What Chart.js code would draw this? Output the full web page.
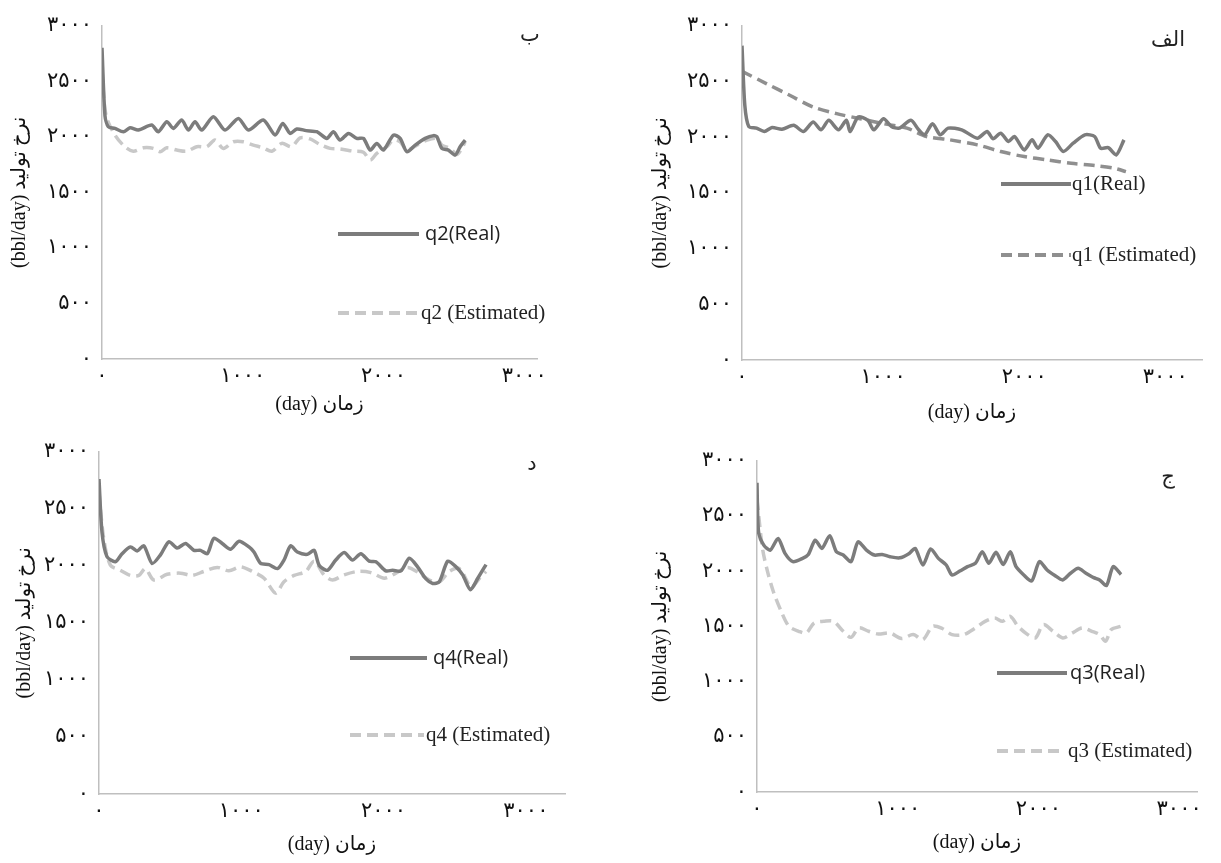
<!DOCTYPE html>
<html lang="fa" dir="ltr">
<head>
<meta charset="utf-8">
<script src="https://cdn.jsdelivr.net/npm/chart.js@4.4.1/dist/chart.umd.min.js"></script>
<style>
  html, body { margin: 0; padding: 0; background: #fff; width: 1221px; height: 863px; overflow: hidden; }
  canvas { position: absolute; }
</style>
</head>
<body>
<canvas id="panelB"></canvas>
<canvas id="panelAlef"></canvas>
<canvas id="panelDal"></canvas>
<canvas id="panelJim"></canvas>
<script>
// ---- data (days, bbl/day) ----
const q1RealDays = [0,20,48,103,158,213,283,366,436,504,560,615,684,740,767,823,892,934,1003,1059,1114,1197,1252,1294,1350,1405,1461,1557,1668,1737,1779,1834,1889,1931,2000,2056,2097,2167,2222,2277,2347,2430,2499,2541,2596,2652,2707];
const q1RealRate = [2820,2285,2095,2080,2050,2085,2070,2105,2050,2135,2065,2150,2065,2150,2050,2180,2150,2065,2165,2095,2080,2150,2065,2020,2120,2020,2080,2065,1990,2050,1985,2035,1960,2005,1885,1975,1900,2020,1960,1870,1945,2020,2005,1900,1905,1840,1975];
const q1EstDays = [0,172,338,504,671,837,1003,1169,1308,1474,1668,1834,2000,2167,2333,2499,2638,2721];
const q1EstRate = [2590,2480,2375,2270,2210,2165,2120,2080,2005,1975,1930,1870,1825,1795,1765,1745,1720,1690];

const q2RealDays = [0,21,45,92,152,199,258,353,400,460,507,566,614,661,708,791,874,969,1040,1146,1230,1284,1336,1384,1450,1526,1597,1644,1691,1751,1810,1857,1905,1952,1999,2070,2118,2166,2225,2296,2355,2379,2414,2461,2509,2544,2580];
const q2RealRate = [2800,2190,2090,2075,2045,2080,2060,2105,2045,2135,2075,2150,2060,2135,2060,2180,2060,2165,2060,2150,2015,2120,2030,2070,2055,2045,1985,2045,1970,2030,1985,1985,1880,1940,1880,2015,1985,1865,1925,1985,2010,2000,1895,1880,1835,1910,1970];
const q2EstDays = [0,28,92,163,222,294,365,412,460,531,602,673,744,803,862,933,1004,1075,1146,1206,1277,1348,1407,1478,1549,1620,1691,1786,1857,1905,1952,2023,2070,2118,2166,2237,2308,2379,2414,2473,2521,2556,2580];
const q2EstRate = [2600,2195,2015,1910,1870,1900,1895,1865,1900,1880,1870,1910,1910,1970,1895,1955,1955,1925,1900,1870,1940,1910,1990,1980,1930,1895,1890,1870,1860,1790,1850,1910,1970,1955,1880,1925,1970,1985,1925,1895,1840,1895,1955];

const q3RealDays = [0,11,48,94,150,199,255,324,365,414,461,517,564,613,668,718,778,834,889,945,1014,1082,1124,1179,1234,1289,1345,1386,1441,1496,1552,1601,1648,1698,1750,1800,1841,1896,1952,2007,2062,2117,2172,2228,2283,2338,2393,2435,2484,2531,2587];
const q3RealRate = [2800,2355,2235,2190,2295,2160,2085,2115,2150,2280,2205,2320,2175,2145,2085,2265,2190,2145,2150,2130,2120,2160,2205,2055,2200,2115,2055,1965,2000,2040,2070,2175,2070,2170,2060,2175,2040,1965,1910,2085,2010,1960,1920,1980,2025,1980,1940,1920,1870,2040,1970];
const q3EstDays = [0,39,75,116,172,227,296,351,406,475,544,613,668,723,793,862,945,1027,1110,1179,1248,1317,1386,1469,1552,1621,1689,1745,1800,1855,1924,1979,2035,2104,2173,2242,2311,2380,2435,2477,2518,2587];
const q3EstRate = [2650,2205,1995,1815,1635,1500,1455,1440,1530,1545,1545,1455,1400,1485,1455,1430,1440,1390,1425,1380,1500,1480,1425,1425,1485,1545,1575,1545,1590,1500,1425,1395,1515,1455,1395,1440,1485,1455,1425,1365,1470,1500];

const q4RealDays = [0,21,56,115,162,221,268,315,373,432,491,549,608,667,714,761,807,866,925,984,1054,1089,1136,1195,1254,1300,1347,1394,1465,1512,1547,1606,1664,1723,1782,1840,1899,1946,2016,2063,2122,2181,2239,2298,2345,2392,2451,2509,2556,2610,2662,2720];
const q4RealRate = [2760,2295,2080,2035,2105,2165,2130,2175,2020,2095,2210,2155,2195,2135,2135,2105,2240,2195,2145,2215,2165,2120,2020,2010,1975,2050,2175,2120,2100,2135,2005,1960,2050,2115,2050,2105,2040,2035,1955,1960,1955,2065,1990,1885,1845,1860,2040,1990,1920,1790,1890,2010];
const q4EstDays = [0,33,80,150,221,280,326,385,479,573,655,737,831,913,995,1077,1160,1242,1300,1371,1453,1512,1582,1641,1723,1817,1911,2005,2087,2169,2251,2322,2392,2463,2533,2615,2674,2720];
const q4EstRate = [2640,2240,2005,1960,1915,1915,1975,1875,1925,1935,1915,1950,1985,1955,1990,1950,1890,1760,1860,1915,1950,2040,1920,1875,1920,1950,1940,1890,1935,1985,1935,1875,1860,1950,1975,1815,1890,1950];

const xTickValues = [0, 1000, 2000, 3000];
const yTickStep = 500;

// ---- styles ----
const REAL_GRAY = '#7c7c7c';
const EST_MID = '#8f8f8f';
const EST_LIGHT = '#c8c8c8';
const AXIS_GRAY = '#bfbfbf';
const SERIF = "'Liberation Serif', 'DejaVu Sans', serif";
const SANS = "'Open Sans', 'Liberation Sans', sans-serif";
const TITLE_SIZE = 20;
const TICK_SIZE = 21;

const faDigits = n => String(n).replace(/\d/g, d => '۰۱۲۳۴۵۶۷۸۹'[d]);
const toPoints = (xs, ys) => xs.map((x, i) => ({ x: x, y: ys[i] }));

// plot boxes and label spots, in page pixels
const panels = [
  { id: 'panelB', letter: 'ب', L: 102, T: 23, R: 537, B: 359, xMax: 3090, yTitleX: 20, xTitleY: 405,
    letterX: 530, letterY: 35, name: 'q2', real: [q2RealDays, q2RealRate], est: [q2EstDays, q2EstRate], estColor: EST_LIGHT,
    legend: [ { x0: 338, x1: 419, y: 234, tx: 425, font: '20px ' + SANS },
              { x0: 338, x1: 419, y: 313, tx: 421, font: '21px ' + SERIF } ] },
  { id: 'panelAlef', letter: 'الف', L: 742, T: 23, R: 1202, B: 360, xMax: 3260, yTitleX: 661, xTitleY: 413,
    letterX: 1168, letterY: 40, name: 'q1', real: [q1RealDays, q1RealRate], est: [q1EstDays, q1EstRate], estColor: EST_MID,
    legend: [ { x0: 1001, x1: 1071, y: 184, tx: 1072, font: '21px ' + SERIF },
              { x0: 1001, x1: 1071, y: 255, tx: 1072, font: '21px ' + SERIF } ] },
  { id: 'panelDal', letter: 'د', L: 99, T: 449, R: 565, B: 794, xMax: 3275, yTitleX: 25, xTitleY: 845,
    letterX: 532, letterY: 464, name: 'q4', real: [q4RealDays, q4RealRate], est: [q4EstDays, q4EstRate], estColor: EST_LIGHT,
    legend: [ { x0: 350, x1: 427, y: 658, tx: 433, font: '20px ' + SANS },
              { x0: 350, x1: 424, y: 735, tx: 426, font: '21px ' + SERIF } ] },
  { id: 'panelJim', letter: 'ج', L: 757, T: 458, R: 1197, B: 792, xMax: 3127, yTitleX: 661, xTitleY: 843,
    letterX: 1168, letterY: 477, name: 'q3', real: [q3RealDays, q3RealRate], est: [q3EstDays, q3EstRate], estColor: EST_LIGHT,
    legend: [ { x0: 997, x1: 1067, y: 673, tx: 1070, font: '20px ' + SANS },
              { x0: 997, x1: 1065, y: 751, tx: 1068, font: '21px ' + SERIF } ] }
];

// legend and panel letter, drawn at fixed spots inside each panel
const overlay = {
  id: 'overlay',
  afterDraw(chart, args, opts) {
    const ctx = chart.ctx;
    ctx.save();
    chart.data.datasets.forEach((ds, i) => {
      const it = opts.legend[i];
      ctx.strokeStyle = ds.borderColor;
      ctx.lineWidth = 4;
      ctx.setLineDash(ds.borderDash || []);
      ctx.beginPath();
      ctx.moveTo(it.x0 - opts.ox, it.y - opts.oy);
      ctx.lineTo(it.x1 - opts.ox, it.y - opts.oy);
      ctx.stroke();
      ctx.setLineDash([]);
      ctx.fillStyle = '#222';
      ctx.font = it.font;
      ctx.textAlign = 'left';
      ctx.textBaseline = 'middle';
      ctx.fillText(ds.label, it.tx - opts.ox, it.y - opts.oy);
    });
    ctx.font = '21px ' + SERIF;
    ctx.fillStyle = '#222';
    ctx.textAlign = 'center';
    ctx.textBaseline = 'middle';
    ctx.fillText(opts.letter, opts.letterX - opts.ox, opts.letterY - opts.oy);
    ctx.restore();
  }
};

panels.forEach(p => {
  const half = TITLE_SIZE * 1.2 / 2;
  const padT = 20, padR = 40;
  const left = p.yTitleX - half;
  const top = p.T - padT;
  const right = p.R + padR;
  const bottom = p.xTitleY + half;
  const canvas = document.getElementById(p.id);
  canvas.width = right - left;
  canvas.height = bottom - top;
  canvas.style.left = left + 'px';
  canvas.style.top = top + 'px';

  new Chart(canvas.getContext('2d'), {
    type: 'line',
    data: {
      datasets: [
        { label: p.name + '(Real)', data: toPoints(p.real[0], p.real[1]),
          borderColor: REAL_GRAY, borderWidth: 3.5, pointRadius: 0, tension: 0.25, fill: false },
        { label: p.name + ' (Estimated)', data: toPoints(p.est[0], p.est[1]),
          borderColor: p.estColor, borderWidth: 3.5, borderDash: [11, 6], pointRadius: 0, tension: 0.3, fill: false }
      ]
    },
    options: {
      responsive: false,
      animation: false,
      layout: { padding: { left: 0, top: padT, right: padR, bottom: 0 } },
      plugins: {
        legend: { display: false },
        tooltip: { enabled: false },
        overlay: { legend: p.legend, letter: p.letter, letterX: p.letterX, letterY: p.letterY, ox: left, oy: top }
      },
      scales: {
        x: {
          type: 'linear', min: 0, max: p.xMax,
          grid: { display: false, drawTicks: false },
          border: { display: true, color: AXIS_GRAY, width: 1.5 },
          afterBuildTicks: s => { s.ticks = xTickValues.map(v => ({ value: v })); },
          afterFit: s => { s.height = bottom - p.B; },
          ticks: { padding: 5, color: '#111', font: { family: SERIF, size: TICK_SIZE }, callback: v => faDigits(v), maxRotation: 0 },
          title: { display: true, text: '(day) زمان', color: '#111', padding: 0, font: { family: SERIF, size: TITLE_SIZE } }
        },
        y: {
          min: 0, max: 3000,
          grid: { display: false, drawTicks: false },
          border: { display: true, color: AXIS_GRAY, width: 1.5 },
          afterFit: s => { s.width = p.L - left; },
          ticks: { stepSize: yTickStep, padding: 10, color: '#111', font: { family: SERIF, size: TICK_SIZE }, callback: v => faDigits(v) },
          title: { display: true, text: '(bbl/day) نرخ تولید', color: '#111', padding: 0, font: { family: SERIF, size: TITLE_SIZE } }
        }
      }
    },
    plugins: [overlay]
  });
});
</script>
</body>
</html>
